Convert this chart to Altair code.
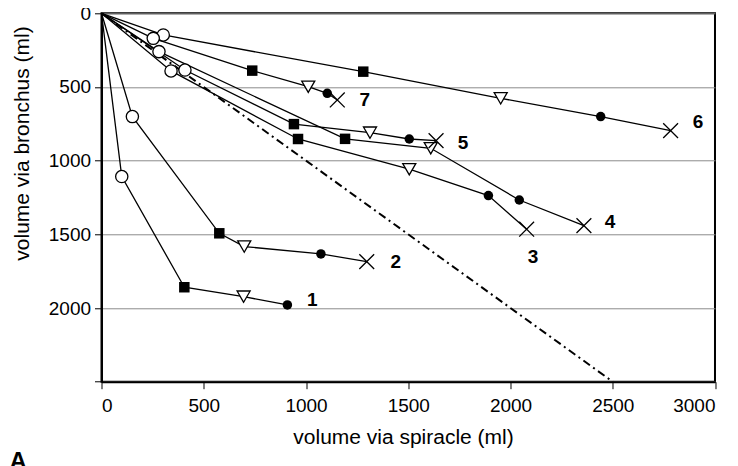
import altair as alt
import pandas as pd

# ---- data ----
stages = ["start", "open circle", "square", "open triangle", "filled circle", "cross"]

s1_x = [0, 99, 405, 695, 909]
s1_y = [0, 1108, 1859, 1923, 1979]
s2_x = [0, 151, 576, 698, 1073, 1297]
s2_y = [0, 701, 1493, 1583, 1633, 1685]
s3_x = [0, 340, 961, 1505, 1892, 2079]
s3_y = [0, 391, 853, 1058, 1237, 1465]
s4_x = [0, 281, 1191, 1610, 2043, 2359]
s4_y = [0, 260, 852, 916, 1267, 1441]
s5_x = [0, 408, 941, 1313, 1505, 1636]
s5_y = [0, 385, 752, 810, 853, 864]
s6_x = [0, 302, 1280, 1952, 2441, 2783]
s6_y = [0, 147, 396, 577, 701, 796]
s7_x = [0, 253, 737, 1011, 1104, 1153]
s7_y = [0, 170, 389, 498, 543, 588]

series_names = ["1", "2", "3", "4", "5", "6", "7"]
label_x = [1031, 1439, 2110, 2487, 1768, 2917, 1288]
label_y = [1947, 1685, 1653, 1414, 880, 737, 588]

diag_x = [0, 2500]
diag_y = [0, 2500]

x_ticks = [0, 500, 1000, 1500, 2000, 2500, 3000]
y_ticks = [0, 500, 1000, 1500, 2000, 2500]

# ---- build table ----
all_x = [s1_x, s2_x, s3_x, s4_x, s5_x, s6_x, s7_x]
all_y = [s1_y, s2_y, s3_y, s4_y, s5_y, s6_y, s7_y]
rows = []
for name, xs, ys in zip(series_names, all_x, all_y):
    for i, (xv, yv) in enumerate(zip(xs, ys)):
        rows.append({"series": name, "order": i, "x": xv, "y": yv, "stage": stages[i]})
df = pd.DataFrame(rows)
labels_df = pd.DataFrame({"series": series_names, "x": label_x, "y": label_y})
diag_df = pd.DataFrame({"x": diag_x, "y": diag_y})

FONT = "Liberation Sans, Arial, sans-serif"
W, H = 613.5, 368.4

xscale = alt.Scale(domain=[0, 3000], nice=False, zero=False)
yscale = alt.Scale(domain=[0, 2500], nice=False, reverse=True)

xax = alt.Axis(values=x_ticks, format="d", grid=False, tickSize=7, tickColor="black", tickWidth=1,
               domainColor="black", domainWidth=2, labelFont=FONT, labelFontSize=19,
               labelColor="black", labelPadding=8, title="volume via spiracle (ml)",
               titleFont=FONT, titleFontSize=21, titleFontWeight="normal", titleColor="black",
               titleX=301.5, titleY=56, titleBaseline="middle", titleAlign="center")
yax = alt.Axis(values=y_ticks, format="d", grid=True, gridColor="#8c8c8c", gridWidth=1,
               tickSize=7, tickColor="black", tickWidth=1,
               domainColor="black", domainWidth=2, labelFont=FONT, labelFontSize=19,
               labelColor="black", labelPadding=4,
               labelExpr="datum.value == 2500 ? '' : datum.label",
               title="volume via bronchus (ml)", titleFont=FONT, titleFontSize=21,
               titleFontWeight="normal", titleColor="black", titleAngle=270,
               titleX=-79.5, titleY=129.7, titleBaseline="middle", titleAlign="center")

X = alt.X("x:Q", scale=xscale, axis=xax)
Y = alt.Y("y:Q", scale=yscale, axis=yax)
Xn = alt.X("x:Q", scale=xscale)
Yn = alt.Y("y:Q", scale=yscale)

base = alt.Chart(df)

diag = alt.Chart(diag_df).mark_line(color="black", strokeWidth=2, strokeDash=[8, 4, 2, 4]).encode(x=X, y=Y)

lines = base.mark_line(color="black", strokeWidth=1.3).encode(
    x=Xn, y=Yn, detail="series:N", order="order:Q")

open_c = base.transform_filter(alt.datum.stage == "open circle").mark_point(
    shape="circle", filled=False, fill="white", fillOpacity=1, stroke="black",
    strokeWidth=1.3, size=150, opacity=1).encode(x=Xn, y=Yn)
squares = base.transform_filter(alt.datum.stage == "square").mark_point(
    shape="square", filled=True, color="black", size=110, opacity=1).encode(x=Xn, y=Yn)
tris = base.transform_filter(alt.datum.stage == "open triangle").mark_point(
    shape="triangle-down", filled=False, fill="white", fillOpacity=1, stroke="black",
    strokeWidth=1.3, size=170, opacity=1).encode(x=Xn, y=Yn)
fcirc = base.transform_filter(alt.datum.stage == "filled circle").mark_point(
    shape="circle", filled=True, color="black", size=90, opacity=1).encode(x=Xn, y=Yn)
crosses = base.transform_filter(alt.datum.stage == "cross").mark_point(
    shape="M-1,-1L1,1M-1,1L1,-1", filled=False, stroke="black", strokeWidth=1.3,
    size=220, opacity=1).encode(x=Xn, y=Yn)

texts = alt.Chart(labels_df).mark_text(font=FONT, fontSize=19, fontWeight="bold",
                                       color="black", align="center", baseline="middle").encode(
    x=Xn, y=Yn, text="series:N")

panel_a = alt.Chart(pd.DataFrame({"t": ["A"]})).mark_text(
    font=FONT, fontSize=24, fontWeight="bold", color="black", align="left",
    baseline="top").encode(x=alt.value(-92), y=alt.value(437), text="t:N")

chart = alt.layer(diag, lines, open_c, squares, tris, fcirc, crosses, texts, panel_a).properties(
    width=W, height=H,
    autosize=alt.AutoSizeParams(type="none"),
    padding={"left": 93.5, "top": 5.3, "right": 7, "bottom": 84},
    background="white",
).configure_view(stroke="black", strokeWidth=2)

chart.save("out.html", embed_options={"renderer": "svg", "actions": False})
